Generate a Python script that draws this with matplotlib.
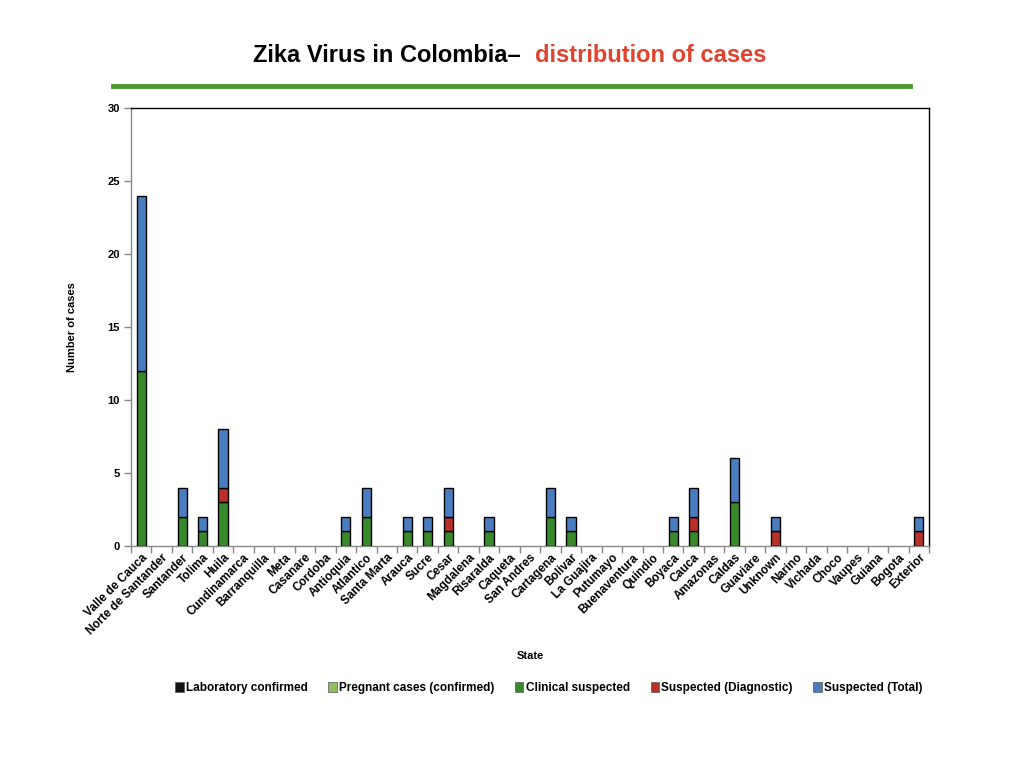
import matplotlib
matplotlib.use('Agg')
import matplotlib.pyplot as plt
import numpy as np
from matplotlib.lines import Line2D
from matplotlib.patches import Patch

plt.rcParams['font.family'] = ['Liberation Sans', 'DejaVu Sans']

states = ['Valle de Cauca', 'Norte de Santander', 'Santander', 'Tolima', 'Huila',
          'Cundinamarca', 'Barranquilla', 'Meta', 'Casanare', 'Cordoba', 'Antioquia',
          'Atlantico', 'Santa Marta', 'Arauca', 'Sucre', 'Cesar', 'Magdalena',
          'Risaralda', 'Caqueta', 'San Andres', 'Cartagena', 'Bolivar', 'La Guajira',
          'Putumayo', 'Buenaventura', 'Quindio', 'Boyaca', 'Cauca', 'Amazonas',
          'Caldas', 'Guaviare', 'Unknown', 'Narino', 'Vichada', 'Choco', 'Vaupes',
          'Guiana', 'Bogota', 'Exterior']
lab_confirmed = [0] * 39
pregnant = [0] * 39
clinical = [12, 0, 2, 1, 3, 0, 0, 0, 0, 0, 1, 2, 0, 1, 1, 1, 0, 1, 0, 0, 2, 1, 0,
            0, 0, 0, 1, 1, 0, 3, 0, 0, 0, 0, 0, 0, 0, 0, 0]
diagnostic = [0, 0, 0, 0, 1, 0, 0, 0, 0, 0, 0, 0, 0, 0, 0, 1, 0, 0, 0, 0, 0, 0, 0,
              0, 0, 0, 0, 1, 0, 0, 0, 1, 0, 0, 0, 0, 0, 0, 1]
susp_total = [12, 0, 2, 1, 4, 0, 0, 0, 0, 0, 1, 2, 0, 1, 1, 2, 0, 1, 0, 0, 2, 1, 0,
              0, 0, 0, 1, 2, 0, 3, 0, 1, 0, 0, 0, 0, 0, 0, 1]

series = [('Laboratory confirmed', lab_confirmed, '#111111'),
          ('Pregnant cases (confirmed)', pregnant, '#8fbf5a'),
          ('Clinical suspected', clinical, '#38892a'),
          ('Suspected (Diagnostic)', diagnostic, '#b8302a'),
          ('Suspected (Total)', susp_total, '#4a7dbf')]

fig = plt.figure(figsize=(10.24, 7.68), dpi=100)
ax = fig.add_axes([131 / 1024, 1 - 546 / 768, 798 / 1024, 438 / 768])

x = np.arange(len(states))
bottom = np.zeros(len(states))
for name, vals, col in series:
    vals = np.array(vals, dtype=float)
    mask = vals > 0
    ax.bar(x[mask], vals[mask], width=0.45, bottom=bottom[mask], color=col,
           edgecolor='black', linewidth=1.0, zorder=3)
    bottom += vals

ax.set_xlim(-0.5, len(states) - 0.5)
ax.set_ylim(0, 30)
ax.set_yticks(range(0, 31, 5))
ax.set_yticklabels([str(v) for v in range(0, 31, 5)], fontsize=8, fontweight='bold')
ax.set_xticks(x)
ax.set_xticklabels(states, rotation=45, ha='right', rotation_mode='anchor',
                   fontsize=8.5, fontweight='bold')
ax.set_xticks(np.arange(-0.5, len(states), 1), minor=True)
ax.tick_params(axis='x', which='major', length=0, pad=4)
ax.tick_params(axis='x', which='minor', length=5, color='#888888', width=1)
ax.tick_params(axis='y', length=5, color='#888888', width=1, pad=3)

for s in ['left', 'bottom']:
    ax.spines[s].set_color('#888888')
for s in ['top', 'right']:
    ax.spines[s].set_color('black')
for s in ax.spines.values():
    s.set_linewidth(1.0)

ax.set_xlabel('State', fontsize=8, fontweight='bold')
ax.xaxis.set_label_coords(0.5, -0.24)
ax.set_ylabel('Number of cases', fontsize=8, fontweight='bold', labelpad=22)

# title in two colours
fig.text(521 / 1024, 1 - 55 / 768, 'Zika Virus in Colombia\u2013', ha='right', va='center',
         fontsize=17, fontweight='bold', color='black')
fig.text(535 / 1024, 1 - 55 / 768, 'distribution of cases', ha='left', va='center',
         fontsize=17, fontweight='bold', color='#e0432e')
fig.add_artist(Line2D([113 / 1024, 910 / 1024], [1 - 86 / 768, 1 - 86 / 768],
                      color='#4a9a30', linewidth=3.5))

handles = [Patch(facecolor=col, edgecolor='#555555', linewidth=0.5, label=name)
           for name, vals, col in series]
fig.legend(handles=handles, loc='center', bbox_to_anchor=(0.536, 1 - 688 / 768),
           ncol=5, frameon=False, handlelength=0.7, handleheight=0.9,
           handletextpad=0.2, columnspacing=1.75,
           prop={'weight': 'bold', 'size': 8.5})

fig.savefig('out.png', dpi=100)
